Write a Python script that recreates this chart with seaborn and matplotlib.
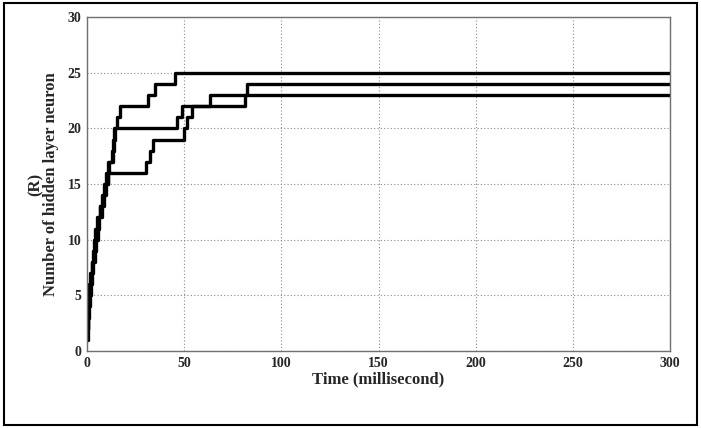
import numpy as np
import pandas as pd
import matplotlib
matplotlib.use("Agg")
import matplotlib.pyplot as plt
import seaborn as sns
from matplotlib.patches import Rectangle

# step times (ms) and hidden-neuron count reached at each step
time_a = [0, 0.1, 0.3, 0.5, 0.8, 1.3, 1.8, 2.4, 3.0, 3.6, 4.4, 5.3, 6.5, 7.6, 8.8, 10.0,
          10.8, 12.8, 13.4, 13.9, 15.4, 16.8, 31.5, 35.0, 45.5, 300]
neur_a = [1, 2, 3, 4, 5, 6, 7, 8, 9, 10, 11, 12, 13, 14, 15, 16,
          17, 18, 19, 20, 21, 22, 23, 24, 25, 25]

time_b = [0, 0.2, 0.4, 0.7, 1.1, 1.6, 2.1, 2.8, 3.4, 4.1, 4.9, 5.8, 6.9, 8.2, 9.3, 10.6,
          11.3, 13.2, 13.8, 14.3, 46.5, 48.7, 63.3, 300]
neur_b = [1, 2, 3, 4, 5, 6, 7, 8, 9, 10, 11, 12, 13, 14, 15, 16,
          17, 18, 19, 20, 21, 22, 23, 23]

time_c = [0, 0.3, 0.6, 0.9, 1.4, 1.9, 2.5, 3.2, 3.9, 4.7, 5.5, 6.4, 7.6, 8.6, 9.8, 11.0,
          30.5, 32.3, 34.0, 50.0, 51.7, 54.0, 81.3, 82.5, 300]
neur_c = [1, 2, 3, 4, 5, 6, 7, 8, 9, 10, 11, 12, 13, 14, 15, 16,
          17, 18, 19, 20, 21, 22, 23, 24, 24]

x_ticks = [0, 50, 100, 150, 200, 250, 300]
y_ticks = [0, 5, 10, 15, 20, 25, 30]

df = pd.concat([
    pd.DataFrame({"time": time_a, "neurons": neur_a, "run": "a"}),
    pd.DataFrame({"time": time_b, "neurons": neur_b, "run": "b"}),
    pd.DataFrame({"time": time_c, "neurons": neur_c, "run": "c"}),
])

sns.set_style("white")
plt.rcParams["font.family"] = ["Liberation Serif", "DejaVu Serif"]
plt.rcParams["font.weight"] = "bold"

fig = plt.figure(figsize=(7.01, 4.28), dpi=100)
ax = fig.add_axes([0.124, 0.180, 0.832, 0.780])

sns.lineplot(data=df, x="time", y="neurons", hue="run", palette=["black"] * 3,
             estimator=None, legend=False, drawstyle="steps-post", linewidth=2.4, ax=ax)

ax.set_xlim(0, 300)
ax.set_ylim(0, 30)
ax.set_xticks(x_ticks)
ax.set_yticks(y_ticks)
ax.grid(True, linestyle=(0, (1, 2)), color="#8a8a8a", linewidth=0.8)
ax.tick_params(direction="in", length=0, labelsize=10, pad=4)
for lbl in ax.get_xticklabels() + ax.get_yticklabels():
    lbl.set_fontweight("bold")
for s in ax.spines.values():
    s.set_color("#707070")
    s.set_linewidth(1.0)

ax.set_xlabel("Time (millisecond)", fontsize=12, fontweight="bold", labelpad=1)
ax.set_ylabel("(R)\nNumber of hidden layer neuron", fontsize=12, fontweight="bold",
              labelpad=6, linespacing=1.0)

# outer frame around the figure
fig.patches.append(Rectangle((0.005, 0.007), 0.99, 0.986, transform=fig.transFigure,
                             fill=False, edgecolor="black", linewidth=1.5))

fig.savefig("out.png", dpi=100)
